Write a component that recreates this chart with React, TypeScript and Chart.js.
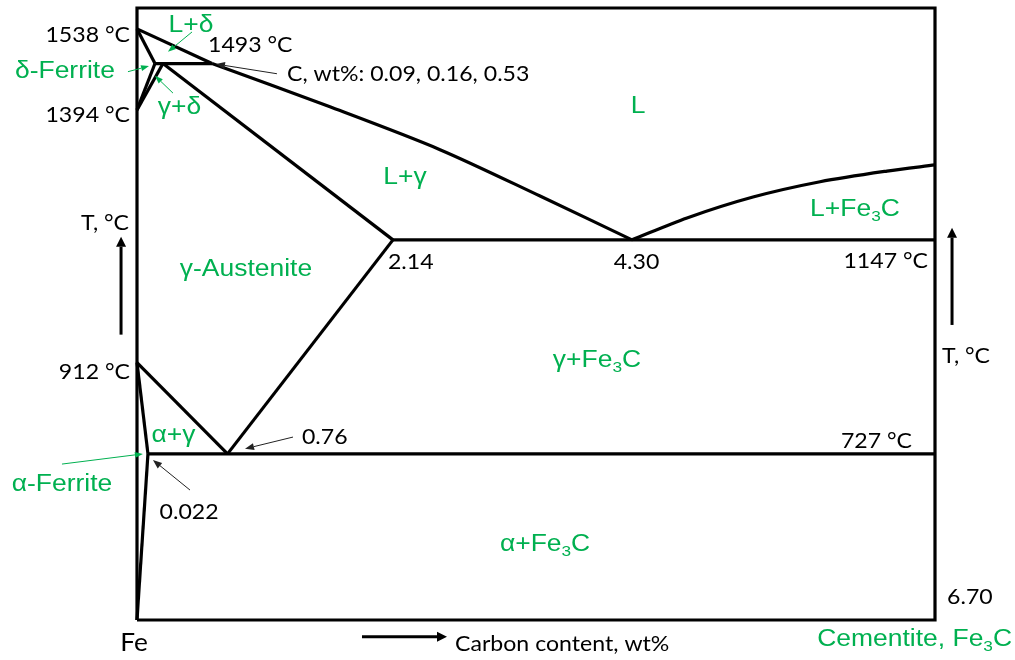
import React, { useEffect, useRef } from "react";
import { Chart, registerables } from "chart.js";

Chart.register(...registerables);

// ---- axis range (wt% carbon, °C) ----
const X_MIN = 0;
const X_MAX = 6.7;
const T_MIN = 401;
const T_MAX = 1602;

// ---- phase boundaries: [carbon wt%, temperature °C] ----
const frameLine = [[0, 401], [0, 1602], [6.7, 1602], [6.7, 401], [0, 401]];
const deltaLiquidus = [[0, 1561], [0.63, 1493]];
const gammaLiquidus = [[0.63, 1493], [1.62, 1408], [2.544, 1324], [3.384, 1233], [4.156, 1147]];
const cementiteLiquidus = [[4.156, 1147], [4.618, 1190], [5.172, 1231], [5.735, 1261], [6.297, 1282], [6.7, 1294]];
const deltaSolidus = [[0, 1561], [0.151, 1493]];
const peritecticLine = [[0.151, 1493], [0.63, 1493]];
const deltaSolvus = [[0, 1402], [0.151, 1493]];
const gammaDeltaLine = [[0, 1402], [0.218, 1493]];
const gammaSolidus = [[0.218, 1493], [2.149, 1147]];
const eutecticLine = [[2.149, 1147], [6.7, 1147]];
const acmLine = [[2.149, 1147], [0.76, 727]];
const a3Line = [[0, 906], [0.76, 727]];
const alphaSolvusUpper = [[0, 906], [0.092, 727]];
const alphaSolvusLower = [[0.092, 727], [0, 401]];
const eutectoidLine = [[0.092, 727], [6.7, 727]];

const boundaries = [
  { pts: frameLine, curved: false },
  { pts: deltaLiquidus, curved: false },
  { pts: gammaLiquidus, curved: true },
  { pts: cementiteLiquidus, curved: true },
  { pts: deltaSolidus, curved: false },
  { pts: peritecticLine, curved: false },
  { pts: deltaSolvus, curved: false },
  { pts: gammaDeltaLine, curved: false },
  { pts: gammaSolidus, curved: false },
  { pts: eutecticLine, curved: false },
  { pts: acmLine, curved: false },
  { pts: a3Line, curved: false },
  { pts: alphaSolvusUpper, curved: false },
  { pts: alphaSolvusLower, curved: false },
  { pts: eutectoidLine, curved: false },
];

// ---- text labels (position in wt% / °C) ----
const blackLabels = [
  { text: "1538 °C", x: -0.059, y: 1549, align: "right" },
  { text: "1493 °C", x: 0.596, y: 1530, align: "left" },
  { text: "1394 °C", x: -0.059, y: 1392, align: "right" },
  { text: "C, wt%: 0.09, 0.16, 0.53", x: 1.259, y: 1473, align: "left" },
  { text: "912 °C", x: -0.059, y: 888, align: "right" },
  { text: "2.14", x: 2.107, y: 1104, align: "left" },
  { text: "4.30", x: 4.194, y: 1104, align: "center" },
  { text: "1147 °C", x: 6.641, y: 1106, align: "right" },
  { text: "727 °C", x: 6.507, y: 752, align: "right" },
  { text: "0.76", x: 1.385, y: 760, align: "left" },
  { text: "0.022", x: 0.437, y: 613, align: "center" },
  { text: "6.70", x: 6.801, y: 446, align: "left" },
  { text: "Fe", x: -0.025, y: 356, align: "center", size: 25 },
  { text: "Carbon content, wt%", x: 2.67, y: 354, align: "left" },
  { text: "T, °C", x: -0.269, y: 1180, align: "center" },
  { text: "T, °C", x: 6.96, y: 919, align: "center" },
];

const greenLabels = [
  { text: "L+δ", x: 0.453, y: 1567, align: "center" },
  { text: "δ-Ferrite", x: -0.605, y: 1477, align: "center" },
  { text: "γ+δ", x: 0.357, y: 1406, align: "center" },
  { text: "L", x: 4.207, y: 1408, align: "center" },
  { text: "L+γ", x: 2.25, y: 1269, align: "center" },
  { text: "L+Fe_3C", x: 6.028, y: 1206, align: "center" },
  { text: "γ-Austenite", x: 0.915, y: 1088, align: "center" },
  { text: "γ+Fe_3C", x: 3.862, y: 909, align: "center" },
  { text: "α+γ", x: 0.306, y: 762, align: "center" },
  { text: "α-Ferrite", x: -0.63, y: 666, align: "center" },
  { text: "α+Fe_3C", x: 3.426, y: 548, align: "center" },
  { text: "Cementite, Fe_3C", x: 7.347, y: 362, align: "right" },
];

// ---- pointer arrows: [from x, from T, to x, to T] ----
const greenPointers = [
  [0.462, 1555, 0.26, 1516],
  [-0.076, 1477, 0.101, 1488],
  [0.302, 1435, 0.151, 1469],
  [-0.63, 707, 0.05, 727],
];
const blackPointers = [
  [1.175, 1473, 0.663, 1492],
  [1.31, 760, 0.907, 737],
  [0.445, 656, 0.134, 715],
];
const axisArrows = [
  [-0.134, 961, -0.134, 1153],
  [6.843, 980, 6.843, 1171],
  [1.889, 368, 2.603, 368],
];

const GREEN = "#00B050";
const BLACK_FONT = "Lato";
const BLACK_SIZE = 22;
const BLACK_SX = 1.05;
const GREEN_FONT = "'Liberation Sans'";
const GREEN_SIZE = 23;
const GREEN_SX = 1.15;

function drawRich(ctx: CanvasRenderingContext2D, text: string, x: number, y: number, align: string, font: string, size: number, sx: number, color: string) {
  const segs = text.split(/_(\d)/);
  ctx.save();
  ctx.translate(x, y);
  ctx.scale(sx, 1);
  ctx.fillStyle = color;
  ctx.textBaseline = "middle";
  ctx.textAlign = "left";
  const widths = segs.map((s, i) => {
    ctx.font = `${i % 2 ? Math.round(size * 0.65) : size}px ${font}`;
    return ctx.measureText(s).width;
  });
  const total = widths.reduce((a, b) => a + b, 0);
  let cx = align === "left" ? 0 : align === "right" ? -total : -total / 2;
  segs.forEach((s, i) => {
    ctx.font = `${i % 2 ? Math.round(size * 0.65) : size}px ${font}`;
    ctx.fillText(s, cx, i % 2 ? size * 0.3 : 0);
    cx += widths[i];
  });
  ctx.restore();
}

function drawArrow(ctx: CanvasRenderingContext2D, x1: number, y1: number, x2: number, y2: number, color: string, lw: number, headLen: number, headW: number) {
  const ang = Math.atan2(y2 - y1, x2 - x1);
  const bx = x2 - headLen * Math.cos(ang);
  const by = y2 - headLen * Math.sin(ang);
  ctx.save();
  ctx.strokeStyle = color;
  ctx.fillStyle = color;
  ctx.lineWidth = lw;
  ctx.beginPath();
  ctx.moveTo(x1, y1);
  ctx.lineTo(bx, by);
  ctx.stroke();
  ctx.beginPath();
  ctx.moveTo(x2, y2);
  ctx.lineTo(bx + (headW / 2) * Math.sin(ang), by - (headW / 2) * Math.cos(ang));
  ctx.lineTo(bx - (headW / 2) * Math.sin(ang), by + (headW / 2) * Math.cos(ang));
  ctx.closePath();
  ctx.fill();
  ctx.restore();
}

const annotationPlugin = {
  id: "phaseAnnotations",
  afterDatasetsDraw(chart: any) {
    const ctx: CanvasRenderingContext2D = chart.ctx;
    const xs = chart.scales.x;
    const ys = chart.scales.y;
    const px = (v: number) => xs.getPixelForValue(v);
    const py = (v: number) => ys.getPixelForValue(v);
    blackLabels.forEach((l: any) => drawRich(ctx, l.text, px(l.x), py(l.y), l.align, BLACK_FONT, l.size || BLACK_SIZE, BLACK_SX, "#000"));
    greenLabels.forEach((l: any) => drawRich(ctx, l.text, px(l.x), py(l.y), l.align, GREEN_FONT, l.size || GREEN_SIZE, GREEN_SX, GREEN));
    greenPointers.forEach((a) => drawArrow(ctx, px(a[0]), py(a[1]), px(a[2]), py(a[3]), GREEN, 1, 8, 6));
    blackPointers.forEach((a) => drawArrow(ctx, px(a[0]), py(a[1]), px(a[2]), py(a[3]), "#222", 1, 9, 7));
    axisArrows.forEach((a) => drawArrow(ctx, px(a[0]), py(a[1]), px(a[2]), py(a[3]), "#000", 3, 10, 10));
  },
};

export default function App() {
  const ref = useRef<HTMLCanvasElement | null>(null);
  useEffect(() => {
    document.body.style.margin = "0";
    const canvas = ref.current;
    if (!canvas) return;
    const chart = new Chart(canvas, {
      type: "scatter",
      data: {
        datasets: boundaries.map((b) => ({
          data: b.pts.map(([x, y]) => ({ x, y })),
          showLine: true,
          borderColor: "#000",
          borderWidth: 3.2,
          pointRadius: 0,
          tension: b.curved ? 0.3 : 0,
          borderJoinStyle: "miter",
          clip: false,
        })) as any,
      },
      options: {
        responsive: false,
        animation: false,
        events: [],
        layout: { padding: { left: 137, right: 80, top: 8, bottom: 40 } },
        scales: {
          x: { type: "linear", min: X_MIN, max: X_MAX, display: false },
          y: { type: "linear", min: T_MIN, max: T_MAX, display: false },
        },
        plugins: { legend: { display: false }, tooltip: { enabled: false } },
      },
      plugins: [annotationPlugin],
    });
    return () => chart.destroy();
  }, []);
  return (
    <div style={{ position: "absolute", left: 0, top: 0, width: 1015, height: 660, background: "#fff" }}>
      <canvas ref={ref} width={1015} height={660} />
    </div>
  );
}
